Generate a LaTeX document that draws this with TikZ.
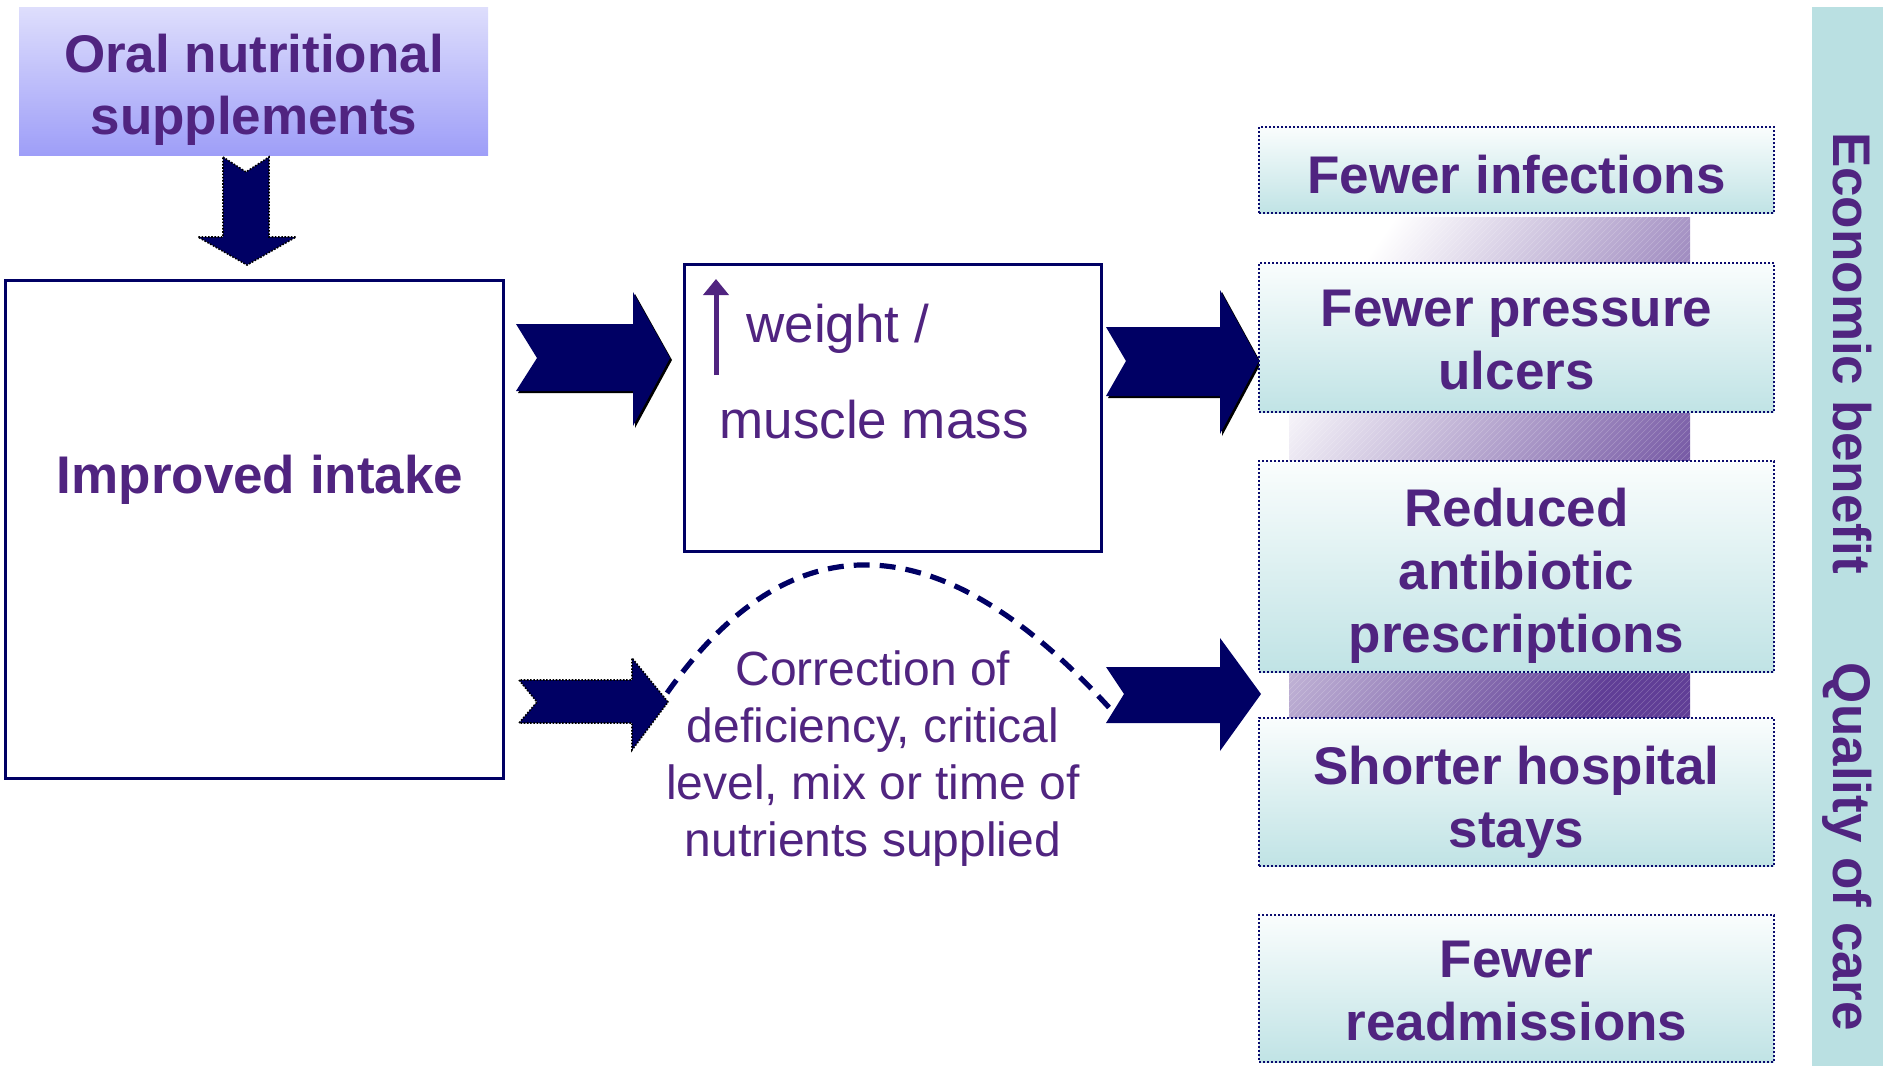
\documentclass[tikz,border=0pt]{standalone}
\usepackage{fontspec}
\setmainfont{Liberation Sans}
\usetikzlibrary{arrows.meta}
\definecolor{txt}{RGB}{80,36,128}
\definecolor{navy}{RGB}{0,0,100}
\definecolor{boxline}{RGB}{10,10,110}
\definecolor{oraltop}{RGB}{222,222,252}
\definecolor{oralbot}{RGB}{158,158,248}
\definecolor{tealbar}{RGB}{186,224,226}
\definecolor{boxtop}{RGB}{250,253,253}
\definecolor{boxbot}{RGB}{192,227,229}
\definecolor{purpdark}{RGB}{96,62,150}
\begin{document}
\begin{tikzpicture}[x=0.5pt,y=-0.5pt,
  bigtxt/.style={font=\fontsize{26.5}{31.5}\selectfont\bfseries, text=txt, align=center, inner sep=0pt, anchor=north},
  sidetxt/.style={font=\fontsize{26.5}{31.5}\selectfont\bfseries, text=txt, inner sep=0pt, rotate=-90, anchor=base},
  regtxt/.style={font=\fontsize{26.5}{31.5}\selectfont, text=txt, inner sep=0pt, anchor=base west},
  corrtxt/.style={font=\fontsize{24}{28.5}\selectfont, text=txt, align=center, inner sep=0pt, anchor=north},
  plainbox/.style={draw=navy, line width=1.5pt, fill=white, inner sep=0pt},
  oralbox/.style={top color=oraltop, bottom color=oralbot, draw=none, inner sep=0pt},
  outbox/.style={draw=boxline, line width=1pt, dash pattern=on 1pt off 1pt, top color=boxtop, bottom color=boxbot, inner sep=0pt, minimum width=257.5pt},
  blockfill/.style={fill=navy},
  blockshadow/.style={fill=black, shift={(2,2)}},
  dottedarrow/.style={fill=navy, draw=black, line width=0.8pt, dash pattern=on 0.8pt off 0.8pt},
  dashcurve/.style={draw=navy, line width=2.6pt, dash pattern=on 8pt off 5pt},
  uparrow/.style={draw=txt, line width=2.5pt, -{Triangle[width=12.5pt,length=8pt]}}
]
\useasboundingbox (0,0) rectangle (1883,1066);

% side bar
\fill[tealbar] (1812,7) rectangle (1883,1066);
\node[sidetxt] (econ) at (1833,353) {Economic benefit};
\node[sidetxt] (qual) at (1833,847) {Quality of care};

% oral supplements
\node[oralbox, minimum width=234.5pt, minimum height=74pt] (oral) at (253.5,81) {};
\node[bigtxt, font=\fontsize{26.5}{31}\selectfont\bfseries] (oraltxt) at (254,33.5) {Oral nutritional\\supplements};

% down arrow
\draw[dottedarrow] (223,157) -- (246,172) -- (269,157) -- (269,237) -- (296,237) -- (247,265) -- (198,237) -- (223,237) -- cycle;

% improved intake
\node[plainbox, minimum width=249pt, minimum height=249pt] (intake) at (254,529) {};
\node[bigtxt, anchor=base] (intaketxt) at (260,493) {Improved intake};

% weight box
\node[plainbox, minimum width=208.5pt, minimum height=143.5pt] (weight) at (892.5,407.5) {};
\coordinate (ua) at (716,375);
\coordinate (ub) at (716,279);
\draw[uparrow] (ua) -- (ub);
\node[regtxt] (w1) at (746,342) {weight /};
\node[regtxt] (w2) at (719,438) {muscle mass};

% upper block arrows
\fill[blockshadow] (516,324) -- (537,358) -- (516,391) -- (633,391) -- (633,426) -- (670,358) -- (633,292) -- (633,324) -- cycle;
\fill[blockfill] (516,324) -- (537,358) -- (516,391) -- (633,391) -- (633,426) -- (670,358) -- (633,292) -- (633,324) -- cycle;
\fill[blockshadow] (1106,327) -- (1126,361) -- (1106,396) -- (1220,396) -- (1220,434) -- (1259,361) -- (1220,290) -- (1220,327) -- cycle;
\fill[blockfill] (1106,327) -- (1126,361) -- (1106,396) -- (1220,396) -- (1220,434) -- (1259,361) -- (1220,290) -- (1220,327) -- cycle;

% lower left arrow
\draw[dottedarrow] (519,680) -- (537,702) -- (519,723) -- (632,723) -- (632,750) -- (668,702) -- (632,658) -- (632,680) -- cycle;

% dashed curve
\coordinate (cstart) at (667,693);
\coordinate (cend) at (1114,713);
\draw[dashcurve] (cstart) .. controls (790,519) and (940,519) .. (cend);

% correction text
\node[corrtxt] (corr) at (873,650) {Correction of\\deficiency, critical\\level, mix or time of\\nutrients supplied};

% lower right arrow
\fill[blockfill] (1106,667) -- (1124,694) -- (1106,723) -- (1220,723) -- (1220,751) -- (1261,694) -- (1220,638) -- (1220,667) -- cycle;

% purple gradient column
\shade[shading=axis, top color=white, bottom color=purpdark, shading angle=55] (1289,217) rectangle (1690,718);
\begin{scope}
\clip (1289,217) rectangle (1690,718);
\foreach \i in {-520,-514,...,420} \draw[white, opacity=0.22, line width=0.3pt] (1289+\i,718) -- ++(501,-501);
\end{scope}

% outcome boxes
\node[outbox, minimum height=43pt] (b1) at (1516.5,170) {};
\node[bigtxt] (t1) at (1516.5,154.5) {Fewer infections};
\node[outbox, minimum height=74.5pt] (b2) at (1516.5,337.5) {};
\node[bigtxt] (t2) at (1516.5,289.5) {Fewer pressure\\ulcers};
\node[outbox, minimum height=105.5pt] (b3) at (1516.5,566.5) {};
\node[bigtxt] (t3) at (1516.5,487.5) {Reduced\\antibiotic\\prescriptions};
\node[outbox, minimum height=74pt] (b4) at (1516.5,792) {};
\node[bigtxt] (t4) at (1516.5,745.5) {Shorter hospital\\stays};
\node[outbox, minimum height=73.5pt] (b5) at (1516.5,988.5) {};
\node[bigtxt] (t5) at (1516.5,940.5) {Fewer\\readmissions};
\end{tikzpicture}
\end{document}
